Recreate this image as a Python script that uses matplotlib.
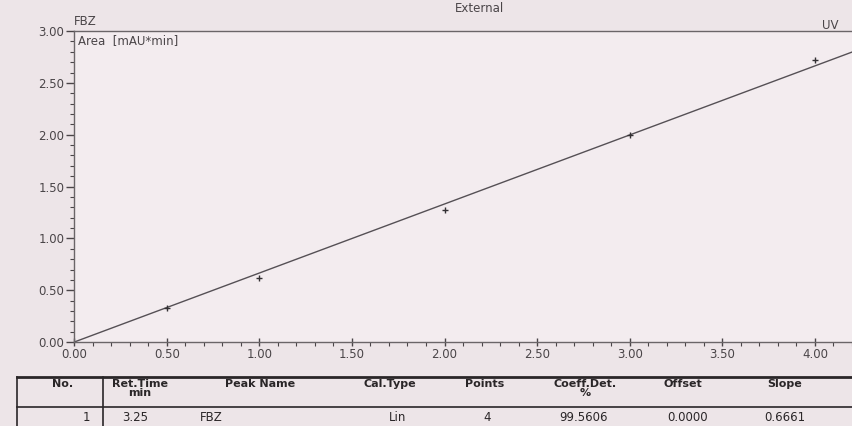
import numpy as np
import matplotlib.pyplot as plt
from matplotlib.ticker import MultipleLocator

# calibration points
amount = [0.5, 1.0, 2.0, 3.0, 4.0]
area = [0.33, 0.62, 1.27, 2.00, 2.72]
offset = 0.0
slope = 0.6661

# result table
headers = ['No.', 'Ret.Time\nmin', 'Peak Name', 'Cal.Type', 'Points', 'Coeff.Det.\n%', 'Offset', 'Slope']
row = ['1', '3.25', 'FBZ', 'Lin', '4', '99.5606', '0.0000', '0.6661']

bg = '#ede5e8'
ink = '#4a4548'

fig = plt.figure(figsize=(8.52, 4.26), dpi=100, facecolor=bg)
ax = fig.add_axes([0.087, 0.197, 0.913, 0.73], facecolor='#f3ecef')

xs = np.array([0, 4.2])
ax.plot(xs, offset + slope * xs, color='#555055', lw=1.0)
ax.plot(amount, area, '+', color='#333033', ms=5, mew=1.0)

ax.set_xlim(0, 4.2)
ax.set_ylim(0, 3.0)
ax.xaxis.set_major_locator(MultipleLocator(0.5))
ax.xaxis.set_minor_locator(MultipleLocator(0.1))
ax.yaxis.set_major_locator(MultipleLocator(0.5))
ax.yaxis.set_minor_locator(MultipleLocator(0.1))
ax.xaxis.set_major_formatter(lambda v, p: f'{v:.2f}')
ax.yaxis.set_major_formatter(lambda v, p: f'{v:.2f}')
ax.tick_params(which='major', length=6, width=1, colors=ink, labelsize=8.5, pad=1)
ax.tick_params(which='minor', length=3, width=0.8, colors=ink)
ax.tick_params(axis='y', direction='out')
ax.tick_params(axis='x', direction='inout')
ax.spines['right'].set_visible(False)
for s in ['left', 'bottom', 'top']:
    ax.spines[s].set_color('#6a6568')
    ax.spines[s].set_linewidth(1.0)

ax.text(0.0, 1.01, 'FBZ', transform=ax.transAxes, fontsize=8.5, color=ink, va='bottom', ha='left')
ax.text(0.005, 0.99, 'Area  [mAU*min]', transform=ax.transAxes, fontsize=8.5, color=ink, va='top', ha='left')
fig.text(0.563, 0.98, 'External', fontsize=8.5, color=ink, ha='center', va='center')
fig.text(0.975, 0.94, 'UV', fontsize=8.5, color=ink, ha='center', va='center')

# table
tax = fig.add_axes([0, 0, 1, 0.125])
tax.set_xlim(0, 852)
tax.set_ylim(53, 0)
tax.axis('off')
tax.plot([17, 852], [4, 4], color='#2a2628', lw=2)
tax.plot([17, 852], [34, 34], color='#2a2628', lw=1.2)
tax.plot([17, 17], [4, 53], color='#2a2628', lw=1.2)
tax.plot([103, 103], [4, 53], color='#2a2628', lw=1.2)

hx = [63, 140, 260, 390, 485, 585, 683, 785]
for x, h in zip(hx, headers):
    tax.text(x, 6, h, ha='center', va='top', fontsize=8, fontweight='bold', color='#2a2628', linespacing=0.95)

vx = [90, 135, 200, 398, 487, 583, 688, 785]
va_ha = ['right', 'center', 'left', 'center', 'center', 'center', 'center', 'center']
for x, v, h in zip(vx, row, va_ha):
    tax.text(x, 45, v, ha=h, va='center', fontsize=8.5, color='#2a2628')

fig.savefig('out.png', dpi=100, facecolor=bg)
